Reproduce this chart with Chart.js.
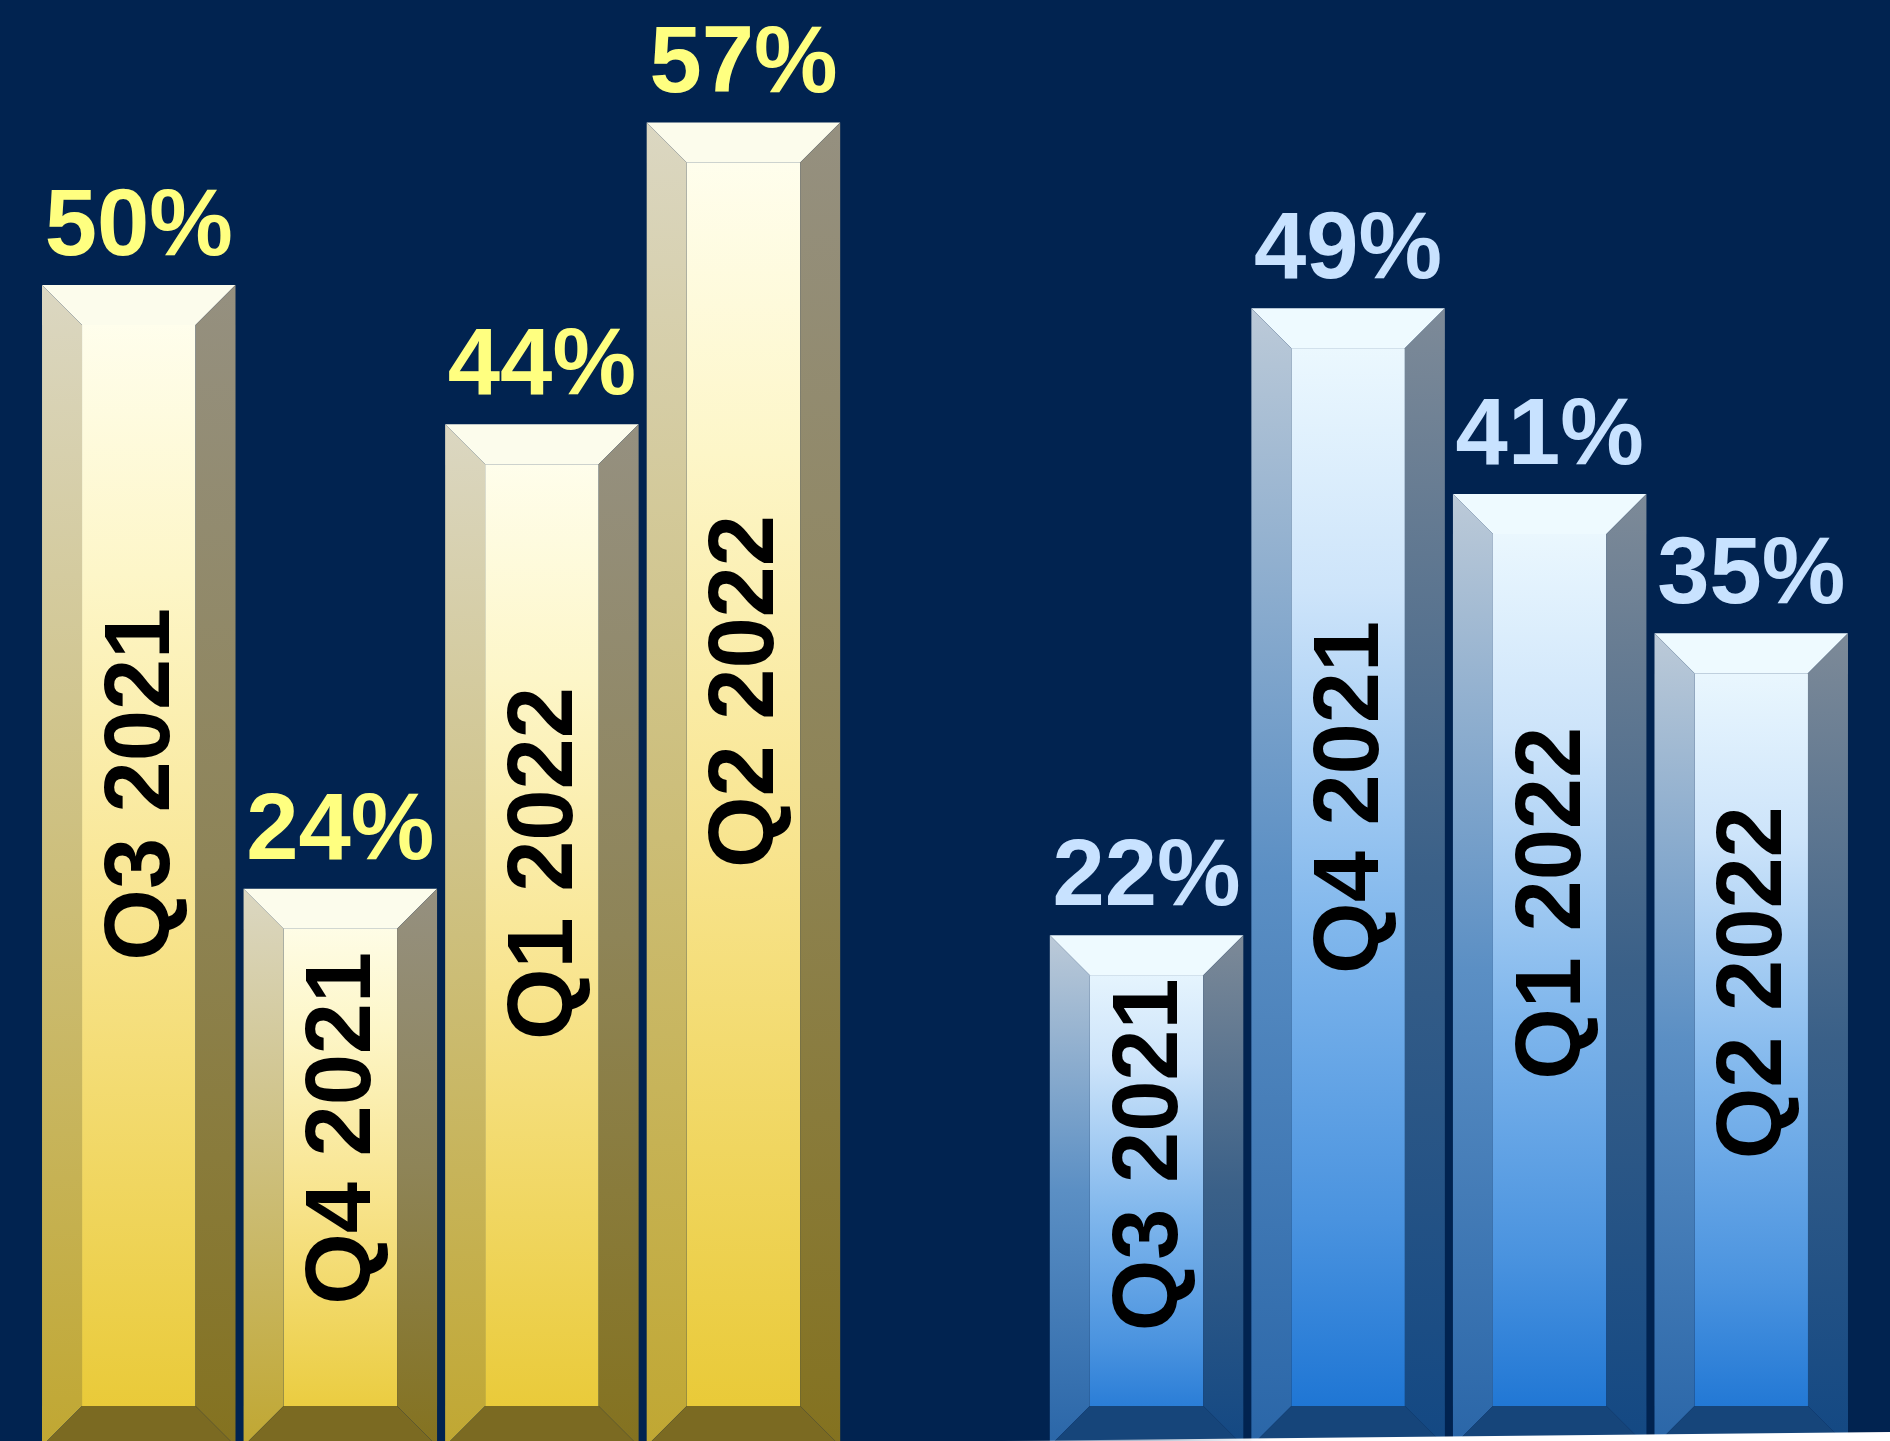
<!DOCTYPE html>
<html>
<head>
<meta charset="utf-8">
<script src="https://cdn.jsdelivr.net/npm/chart.js@4/dist/chart.umd.min.js"></script>
<style>
  html, body { margin: 0; padding: 0; overflow: hidden; background: #012350; }
  #wrap { width: 1890px; height: 1446px; }
</style>
</head>
<body>
<div id="wrap"><canvas id="chart" width="1890" height="1446"></canvas></div>
<script>
const quarters = ['Q3 2021', 'Q4 2021', 'Q1 2022', 'Q2 2022'];
const goldValues = [50, 24, 44, 57];
const blueValues = [22, 49, 41, 35];

// one empty slot between the two groups
const slotLabels = [...quarters, '', ...quarters];
const goldData = [...goldValues, null, null, null, null, null];
const blueData = [null, null, null, null, null, ...blueValues];

const themes = {
  gold: {
    face: [[0, '#fffff2'], [0.25, '#fdf6c8'], [0.55, '#f8e48e'], [1, '#e8c832']],
    left: [[0, '#dbd7c2'], [0.5, '#cdbf7c'], [1, '#c0a732']],
    right: [[0, '#959080'], [0.5, '#8e8457'], [1, '#84721f']],
    top: '#fcfcec',
    bottom: '#7b6a22',
    label: '#ffff80',
  },
  blue: {
    face: [[0, '#f0fbff'], [0.25, '#cde4fa'], [0.55, '#7fb6ec'], [0.8, '#4a93df'], [1, '#1670d2']],
    left: [[0, '#bccad8'], [0.5, '#5b8fc4'], [1, '#2a66a8']],
    right: [[0, '#7d8a98'], [0.5, '#3a6088'], [1, '#134883']],
    top: '#eefaff',
    bottom: '#16457a',
    label: '#c8e2ff',
  },
};

function vgrad(ctx, y0, y1, stops) {
  const g = ctx.createLinearGradient(0, y0, 0, y1);
  stops.forEach(s => g.addColorStop(s[0], s[1]));
  return g;
}

function poly(ctx, pts, fill) {
  ctx.beginPath();
  ctx.moveTo(pts[0][0], pts[0][1]);
  for (let i = 1; i < pts.length; i++) ctx.lineTo(pts[i][0], pts[i][1]);
  ctx.closePath();
  ctx.fillStyle = fill;
  ctx.fill();
}

const bevelBars = {
  id: 'bevelBars',
  afterDatasetsDraw(chart) {
    const ctx = chart.ctx;
    const b = 40;
    ctx.save();
    chart.data.datasets.forEach((ds, i) => {
      const meta = chart.getDatasetMeta(i);
      const th = themes[ds.theme];
      meta.data.forEach((bar, j) => {
        const v = ds.data[j];
        if (v == null) return;
        const p = bar.getProps(['x', 'y', 'base', 'width'], true);
        const x0 = p.x - p.width / 2, x1 = p.x + p.width / 2;
        const y0 = p.y, y1 = p.base;

        ctx.fillStyle = vgrad(ctx, y0, y1, th.face);
        ctx.fillRect(x0 + b, y0 + b, x1 - x0 - 2 * b, y1 - y0 - 2 * b);
        poly(ctx, [[x0, y0], [x1, y0], [x1 - b, y0 + b], [x0 + b, y0 + b]], th.top);
        poly(ctx, [[x0, y0], [x0 + b, y0 + b], [x0 + b, y1 - b], [x0, y1]], vgrad(ctx, y0, y1, th.left));
        poly(ctx, [[x1, y0], [x1, y1], [x1 - b, y1 - b], [x1 - b, y0 + b]], vgrad(ctx, y0, y1, th.right));
        poly(ctx, [[x0, y1], [x0 + b, y1 - b], [x1 - b, y1 - b], [x1, y1]], th.bottom);

        // value above the bar
        ctx.font = 'bold 94px "Liberation Sans", Arial, sans-serif';
        ctx.textAlign = 'center';
        ctx.textBaseline = 'alphabetic';
        ctx.fillStyle = th.label;
        ctx.fillText(v + '%', p.x, y0 - 30);

        // quarter name, rotated inside the bar
        ctx.save();
        const cy = y0 + (y1 - y0) * 0.43;
        ctx.translate(p.x + 30, cy);
        ctx.rotate(-Math.PI / 2);
        ctx.font = 'bold 92px "Liberation Sans", Arial, sans-serif';
        ctx.fillStyle = '#000000';
        ctx.fillText(chart.data.labels[j], 0, 0);
        ctx.restore();
      });
    });
    ctx.restore();
  },
  afterDraw(chart) {
    // white sliver at the lower right corner of the slide
    const ctx = chart.ctx;
    const w = chart.width, h = chart.height;
    ctx.save();
    const g = ctx.createLinearGradient(w * 0.53, 0, w, 0);
    g.addColorStop(0, 'rgba(255,255,255,0.3)');
    g.addColorStop(0.3, '#ffffff');
    g.addColorStop(1, '#ffffff');
    poly(ctx, [[w * 0.53, 1441], [w, 1432], [w, h], [w * 0.53, h]], g);
    ctx.restore();
  },
};

new Chart(document.getElementById('chart'), {
  type: 'bar',
  data: {
    labels: slotLabels,
    datasets: [
      { data: goldData, theme: 'gold', backgroundColor: 'rgba(0,0,0,0)', grouped: false },
      { data: blueData, theme: 'blue', backgroundColor: 'rgba(0,0,0,0)', grouped: false },
    ],
  },
  options: {
    responsive: false,
    animation: false,
    devicePixelRatio: 1,
    layout: { padding: { left: 38, right: 38, top: 0, bottom: 0 } },
    barPercentage: 0.96,
    categoryPercentage: 1,
    scales: {
      x: { display: false, offset: true },
      y: { display: false, min: 0, max: 62.27 },
    },
    plugins: {
      legend: { display: false },
      tooltip: { enabled: false },
    },
  },
  plugins: [bevelBars],
});
</script>
</body>
</html>
